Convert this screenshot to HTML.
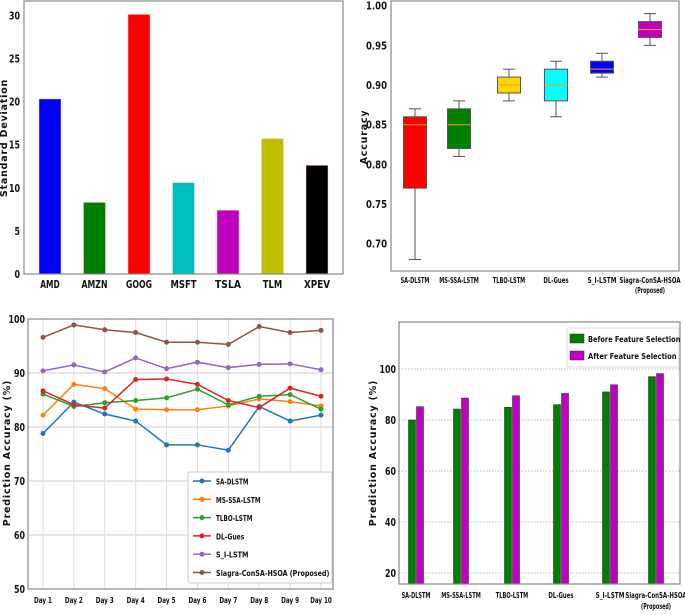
<!DOCTYPE html>
<html><head><meta charset="utf-8"><style>
body{margin:0;background:#fff}
svg{display:block;font-family:"Liberation Sans Narrow","DejaVu Sans Condensed","Liberation Sans",sans-serif}
.t{font-size:11px;font-weight:bold;fill:#111}
.s{font-size:7.5px;font-weight:bold;fill:#111}
.yl{font-family:"DejaVu Sans","Liberation Sans",sans-serif;font-size:9.5px;font-weight:bold;fill:#111;letter-spacing:0.8px}
</style></head><body>
<svg id="c" width="685" height="615" viewBox="0 0 685 615">
<g id="p1"></g>
<g id="p2"></g>
<g id="p3"></g>
<g id="p4"></g>
</svg>
<script>
const stocks=["AMD","AMZN","GOOG","MSFT","TSLA","TLM","XPEV"];
const stdDev=[20.3,8.3,30.1,10.6,7.4,15.7,12.6];
const stockColors=["#0000ff","#008000","#ff0000","#00bfbf","#bf00bf","#bfbf00","#000000"];
const stdTicks=[0,5,10,15,20,25,30];

const models=["SA-DLSTM","MS-SSA-LSTM","TLBO-LSTM","DL-Gues","S_I-LSTM","Siagra-ConSA-HSOA"];
const boxMin=[0.68,0.81,0.88,0.86,0.91,0.95];
const boxQ1=[0.77,0.82,0.89,0.88,0.915,0.96];
const boxMed=[0.85,0.85,0.90,0.90,0.92,0.97];
const boxQ3=[0.86,0.87,0.91,0.92,0.93,0.98];
const boxMax=[0.87,0.88,0.92,0.93,0.94,0.99];
const boxColors=["#ff0000","#008000","#ffd700","#00ffff","#0000ff","#c000c0"];
const accTicks=[0.70,0.75,0.80,0.85,0.90,0.95,1.00];

const days=["Day 1","Day 2","Day 3","Day 4","Day 5","Day 6","Day 7","Day 8","Day 9","Day 10"];
const seriesNames=["SA-DLSTM","MS-SSA-LSTM","TLBO-LSTM","DL-Gues","S_I-LSTM","Siagra-ConSA-HSOA (Proposed)"];
const sSA=[78.8,84.6,82.4,81.1,76.7,76.7,75.7,83.8,81.1,82.2];
const sMS=[82.2,87.9,87.1,83.3,83.2,83.2,83.9,85.2,84.7,83.9];
const sTLBO=[86.1,83.8,84.5,84.9,85.4,87.0,84.1,85.7,86.0,83.3];
const sDL=[86.7,84.1,83.5,88.8,88.9,87.9,84.9,83.6,87.2,85.7];
const sSI=[90.4,91.5,90.2,92.8,90.8,92.0,91.0,91.6,91.7,90.6];
const sSiagra=[96.6,98.9,98.0,97.5,95.7,95.7,95.3,98.6,97.5,97.9];
const lineColors=["#1f77b4","#ff7f0e","#2ca02c","#d62728","#9467bd","#8c564b"];
const lineTicks=[50,60,70,80,90,100];

const beforeFS=[80,84.3,85,86,91,97];
const afterFS=[85.2,88.6,89.5,90.4,93.8,98.2];
const fsTicks=[20,40,60,80,100];

const NS="http://www.w3.org/2000/svg";
function mk(p,tag,a,txt){const e=document.createElementNS(NS,tag);for(const k in a)e.setAttribute(k,a[k]);if(txt!==undefined)e.textContent=txt;p.appendChild(e);return e;}
function frame(g,x0,y0,x1,y1){const r=mk(g,'rect',{x:x0,y:y0,width:x1-x0,height:y1-y0,fill:'none',stroke:'#888','stroke-width':1.2});}
function fit(e,w){try{const bb=e.getComputedTextLength();if(bb>w){e.setAttribute('textLength',w);e.setAttribute('lengthAdjust','spacingAndGlyphs');}}catch(x){}}

// Panel 1
(function(){const g=document.getElementById('p1');const L=24,R=343,T=1,B=274;
const y=v=>B-v*(B-15.3)/30;const x=i=>50+i*44.5;
stdTicks.forEach(t=>{const e=mk(g,'text',{x:L-4,y:y(t)+4,'text-anchor':'end',class:'t'},t);fit(e,String(t).length*5.5);});
stocks.forEach((s,i)=>{const b=mk(g,'rect',{x:x(i)-11,y:y(stdDev[i]),width:22,height:B-y(stdDev[i]),fill:stockColors[i],stroke:'#fcc','stroke-width':0.5});
const e=mk(g,'text',{x:x(i),y:288,'text-anchor':'middle',class:'t'},s);fit(e,s.length*6.5);});
frame(g,L,T,R,B);
const yl=mk(g,'text',{x:0,y:0,transform:'translate(7,138) rotate(-90)','text-anchor':'middle',class:'yl'},'Standard Deviation');})();

// Panel 2
(function(){const g=document.getElementById('p2');const L=391,R=679,T=1,B=271;
const y=v=>5.7+(1-v)*(243.7-5.7)/0.30;const cx=[415,459,509,556,602,650];
accTicks.forEach(t=>{const e=mk(g,'text',{x:L-4,y:y(t)+4,'text-anchor':'end',class:'t'},t.toFixed(2));fit(e,21);});
models.forEach((m,i)=>{const c=cx[i],w=11.5;
mk(g,'line',{x1:c,x2:c,y1:y(boxMin[i]),y2:y(boxQ1[i]),stroke:'#555'});mk(g,'line',{x1:c,x2:c,y1:y(boxQ3[i]),y2:y(boxMax[i]),stroke:'#555'});
mk(g,'line',{x1:c-6,x2:c+6,y1:y(boxMin[i]),y2:y(boxMin[i]),stroke:'#555'});mk(g,'line',{x1:c-6,x2:c+6,y1:y(boxMax[i]),y2:y(boxMax[i]),stroke:'#555'});
const b=mk(g,'rect',{x:c-w,y:y(boxQ3[i]),width:2*w,height:y(boxQ1[i])-y(boxQ3[i]),fill:boxColors[i],stroke:'#555'});
mk(g,'line',{x1:c-w,x2:c+w,y1:y(boxMed[i]),y2:y(boxMed[i]),stroke:'#ff9a30','stroke-width':1});
const e=mk(g,'text',{x:c,y:283,'text-anchor':'middle',class:'s'},m);fit(e,m.length*3.6);});
const p=mk(g,'text',{x:cx[5],y:293,'text-anchor':'middle',class:'s'},'(Proposed)');fit(p,30);
frame(g,L,T,R,B);
const yl=mk(g,'text',{x:0,y:0,transform:'translate(367,137) rotate(-90)','text-anchor':'middle',class:'yl'},'Accuracy');})();

// Panel 3
(function(){const g=document.getElementById('p3');const L=28,R=333,T=319,B=589;
const y=v=>B-(v-50)*(B-T)/50;const x=i=>43+i*(321-43)/9;
lineTicks.forEach(t=>{mk(g,'line',{x1:L,x2:R,y1:y(t),y2:y(t),stroke:'#ccc'});const e=mk(g,'text',{x:L-3,y:y(t)+4,'text-anchor':'end',class:'t'},t);fit(e,String(t).length*5.5);});
days.forEach((d,i)=>{mk(g,'line',{x1:x(i),x2:x(i),y1:T,y2:B,stroke:'#ddd'});const e=mk(g,'text',{x:x(i),y:603,'text-anchor':'middle',class:'s'},d);fit(e,d.length*3.6);});
const all=[sSA,sMS,sTLBO,sDL,sSI,sSiagra];
all.forEach((s,k)=>{const pl=mk(g,'polyline',{points:s.map((v,i)=>x(i)+','+y(v)).join(' '),fill:'none',stroke:lineColors[k],'stroke-width':1.5});
s.forEach((v,i)=>{const c=mk(g,'circle',{cx:x(i),cy:y(v),r:2.5,fill:lineColors[k]});});});
frame(g,L,T,R,B);
const lg=mk(g,'g',{});
mk(lg,'rect',{x:188,y:472,width:144,height:111,fill:'#fff',stroke:'#ccc',rx:2});
seriesNames.forEach((n,k)=>{const yy=481+k*18.3;mk(lg,'line',{x1:193,x2:211,y1:yy,y2:yy,stroke:lineColors[k],'stroke-width':1.5});mk(lg,'circle',{cx:202,cy:yy,r:2.5,fill:lineColors[k]});const e=mk(lg,'text',{x:216,y:yy+3.5,class:'s','font-size':'9.5'},n);fit(e,n.length*4.05);});
const yl=mk(g,'text',{x:0,y:0,transform:'translate(10,453) rotate(-90)','text-anchor':'middle',class:'yl'},'Prediction Accuracy (%)');})();

// Panel 4
(function(){const g=document.getElementById('p4');const L=399,R=680,T=322,B=584;
const y=v=>369+(100-v)*(573-369)/80;const cx=[416,461,512,561,610,656];
fsTicks.forEach(t=>{mk(g,'line',{x1:L,x2:R,y1:y(t),y2:y(t),stroke:'#bbb','stroke-dasharray':'1.5,1.5'});const e=mk(g,'text',{x:L-3,y:y(t)+4,'text-anchor':'end',class:'t'},t);fit(e,String(t).length*5.5);});
models.forEach((m,i)=>{const b1=mk(g,'rect',{x:cx[i]-7.5,y:y(beforeFS[i]),width:7,height:B-y(beforeFS[i]),fill:'#008000',stroke:'#333','stroke-width':0.6});
const b2=mk(g,'rect',{x:cx[i]+0.5,y:y(afterFS[i]),width:7,height:B-y(afterFS[i]),fill:'#c000c0',stroke:'#333','stroke-width':0.6});
const e=mk(g,'text',{x:cx[i],y:598,'text-anchor':'middle',class:'s'},m);fit(e,m.length*3.6);});
const p=mk(g,'text',{x:cx[5],y:609,'text-anchor':'middle',class:'s'},'(Proposed)');fit(p,30);
frame(g,L,T,R,B);
const lg=mk(g,'g',{});
mk(lg,'rect',{x:567,y:328,width:112,height:39,fill:'#fff',stroke:'#ddd'});
[['Before Feature Selection','#008000'],['After Feature Selection','#c000c0']].forEach((d,k)=>{const yy=334+k*17;mk(lg,'rect',{x:570,y:yy,width:14,height:9,fill:d[1],stroke:'#333','stroke-width':0.5});const e=mk(lg,'text',{x:588,y:yy+8,class:'s','font-size':'9.5'},d[0]);fit(e,d[0].length*3.85);});
const yl=mk(g,'text',{x:0,y:0,transform:'translate(376,453) rotate(-90)','text-anchor':'middle',class:'yl'},'Prediction Accuracy (%)');})();
</script>
</body></html>
